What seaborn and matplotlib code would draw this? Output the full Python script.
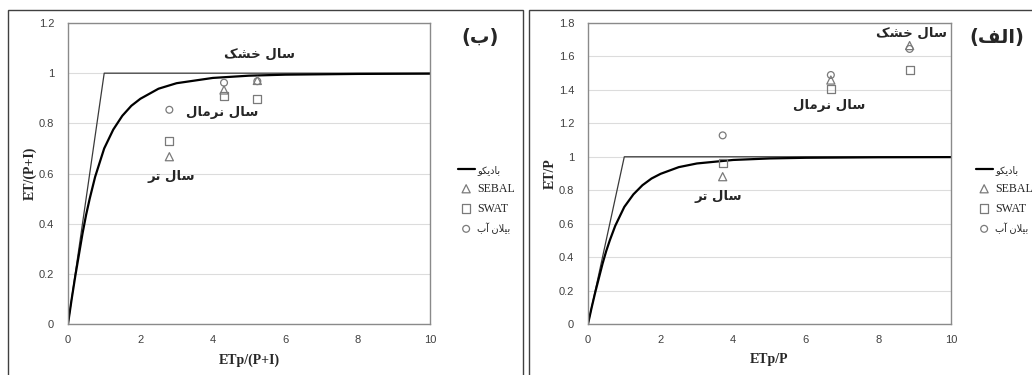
import matplotlib
matplotlib.use("Agg")
import matplotlib.pyplot as plt
import seaborn as sns
from matplotlib.patches import Rectangle

sns.set_style("white")
plt.rcParams['font.family'] = ['DejaVu Sans']

# Budyko curve
curve_x = [0, 0.1, 0.2, 0.3, 0.4, 0.5, 0.6, 0.75, 0.9, 1, 1.25, 1.5, 1.75, 2, 2.5, 3, 4, 5, 6, 8, 10]
curve_y = [0, 0.098, 0.19, 0.275, 0.36, 0.435, 0.50, 0.587, 0.655, 0.700, 0.775, 0.830, 0.870,
           0.898, 0.938, 0.960, 0.981, 0.990, 0.994, 0.997, 0.998]
# energy / water limit line
limit_x = [0, 1, 10]
limit_y = [0, 1, 1]

# panel (b): ETp/(P+I) vs ET/(P+I)  -- wet, normal, dry years
b_x = [2.80, 4.31, 5.23]
b_sebal = [0.667, 0.933, 0.971]
b_swat = [0.728, 0.908, 0.897]
b_balance = [0.854, 0.962, 0.968]

# panel (a): ETp/P vs ET/P
a_x = [3.71, 6.69, 8.86]
a_sebal = [0.881, 1.459, 1.665]
a_swat = [0.963, 1.407, 1.521]
a_balance = [1.128, 1.489, 1.645]

years = ["سال تر", "سال نرمال", "سال خشک"]
b_notes = [(2.85, 0.587), (4.25, 0.845), (5.3, 1.077)]
a_notes = [(3.60, 0.761), (6.65, 1.304), (8.92, 1.739)]

# presentation forms: isolated, final, initial, medial
FORMS = {
    'ا': ('\uFE8D', '\uFE8E', None, None),
    'آ': ('\uFE81', '\uFE82', None, None),
    'ب': ('\uFE8F', '\uFE90', '\uFE91', '\uFE92'),
    'پ': ('\uFB56', '\uFB57', '\uFB58', '\uFB59'),
    'ت': ('\uFE95', '\uFE96', '\uFE97', '\uFE98'),
    'خ': ('\uFEA5', '\uFEA6', '\uFEA7', '\uFEA8'),
    'د': ('\uFEA9', '\uFEAA', None, None),
    'ر': ('\uFEAD', '\uFEAE', None, None),
    'س': ('\uFEB1', '\uFEB2', '\uFEB3', '\uFEB4'),
    'ش': ('\uFEB5', '\uFEB6', '\uFEB7', '\uFEB8'),
    'ف': ('\uFED1', '\uFED2', '\uFED3', '\uFED4'),
    'ک': ('\uFB8E', '\uFB8F', '\uFB90', '\uFB91'),
    'ل': ('\uFEDD', '\uFEDE', '\uFEDF', '\uFEE0'),
    'م': ('\uFEE1', '\uFEE2', '\uFEE3', '\uFEE4'),
    'ن': ('\uFEE5', '\uFEE6', '\uFEE7', '\uFEE8'),
    'و': ('\uFEED', '\uFEEE', None, None),
    'ی': ('\uFBFC', '\uFBFD', '\uFBFE', '\uFBFF'),
}


def shape(text):
    chars = list(text)
    out = []
    i = 0
    while i < len(chars):
        c = chars[i]
        if c not in FORMS:
            out.append(c)
            i += 1
            continue
        prev = chars[i - 1] if i > 0 else None
        joins_prev = prev in FORMS and FORMS[prev][2] is not None
        nxt = chars[i + 1] if i + 1 < len(chars) else None
        if c == 'ل' and nxt == 'ا':
            out.append('\uFEFC' if joins_prev else '\uFEFB')
            i += 2
            continue
        joins_next = FORMS[c][2] is not None and nxt in FORMS
        iso, fin, ini, med = FORMS[c]
        if joins_prev and joins_next:
            out.append(med)
        elif joins_prev:
            out.append(fin)
        elif joins_next:
            out.append(ini)
        else:
            out.append(iso)
        i += 1
    s = ''.join(reversed(out))
    return s.translate(str.maketrans('()', ')('))


fig = plt.figure(figsize=(10.32, 3.75), dpi=100)
W, H = 1032, 375

# panel frames
fig.add_artist(Rectangle((8 / W, -0.05), 515 / W, 1.05 - 10 / H, transform=fig.transFigure,
                         fill=False, edgecolor='#404040', lw=1.0))
fig.add_artist(Rectangle((529 / W, -0.05), 0.6, 1.05 - 10 / H, transform=fig.transFigure,
                         fill=False, edgecolor='#404040', lw=1.0))

ax_b = fig.add_axes([68 / W, 51 / H, 362 / W, 301 / H])
ax_a = fig.add_axes([588 / W, 51 / H, 363 / W, 301 / H])


def draw_panel(ax, px, sebal, swat, balance, ymax, xlabel, ylabel, notes, leg_x):
    sns.lineplot(x=limit_x, y=limit_y, ax=ax, color='#3a3a3a', lw=0.9, estimator=None, sort=False)
    sns.lineplot(x=curve_x, y=curve_y, ax=ax, color='black', lw=1.6, estimator=None, sort=False,
                 label=shape("بادیکو"))
    mk = dict(facecolor='none', edgecolor='#7a7a7a', linewidth=0.9, ax=ax, zorder=3)
    sns.scatterplot(x=px, y=sebal, marker='^', s=34, label='SEBAL', **mk)
    sns.scatterplot(x=px, y=swat, marker='s', s=34, label='SWAT', **mk)
    sns.scatterplot(x=px, y=balance, marker='o', s=24, label=shape("بیلان آب"), **mk)

    ax.set_xlim(0, 10)
    ax.set_ylim(0, ymax)
    ax.set_xticks(range(0, 11, 2))
    yt = [round(v * 0.2, 1) for v in range(int(round(ymax / 0.2)) + 1)]
    ax.set_yticks(yt)
    ax.set_yticklabels([f"{v:g}" for v in yt])
    ax.tick_params(length=0, labelsize=8, labelcolor='#404040')
    ax.tick_params(axis='x', pad=8)
    ax.tick_params(axis='y', pad=10)
    for lab in ax.get_xticklabels() + ax.get_yticklabels():
        lab.set_family(['Liberation Sans'])
    ax.yaxis.grid(True, color='#dcdcdc', lw=0.8)
    ax.set_axisbelow(True)
    for sp in ax.spines.values():
        sp.set_color('#8a8a8a')
        sp.set_linewidth(1.0)

    ax.set_xlabel(xlabel, family=['Liberation Serif'], fontweight='bold', fontsize=10, labelpad=6)
    ax.set_ylabel(ylabel, family=['Liberation Serif'], fontweight='bold', fontsize=10, labelpad=1)

    for (tx, ty), name in zip(notes, years):
        ax.text(tx, ty, shape(name), ha='center', va='center', fontweight='bold', fontsize=9.5)

    leg = ax.legend(loc='upper left', bbox_to_anchor=(leg_x / W, 1 - 160 / H),
                    bbox_transform=fig.transFigure, frameon=False, handlelength=1.4,
                    handletextpad=0.25, labelspacing=0.65, borderaxespad=0,
                    prop={'family': ['Liberation Serif', 'DejaVu Sans'], 'size': 8.6})
    texts = leg.get_texts()
    texts[0].set_fontsize(7)
    texts[3].set_fontsize(7)


draw_panel(ax_b, b_x, b_sebal, b_swat, b_balance, 1.2, "ETp/(P+I)", "ET/(P+I)", b_notes, 453)
draw_panel(ax_a, a_x, a_sebal, a_swat, a_balance, 1.8, "ETp/P", "ET/P", a_notes, 971)

fig.text(480 / W, 1 - 37 / H, shape("(ب)"), ha='center', va='center', fontweight='bold', fontsize=14)
fig.text(997 / W, 1 - 37 / H, shape("(الف)"), ha='center', va='center', fontweight='bold', fontsize=14)

fig.savefig("out.png", dpi=100)
